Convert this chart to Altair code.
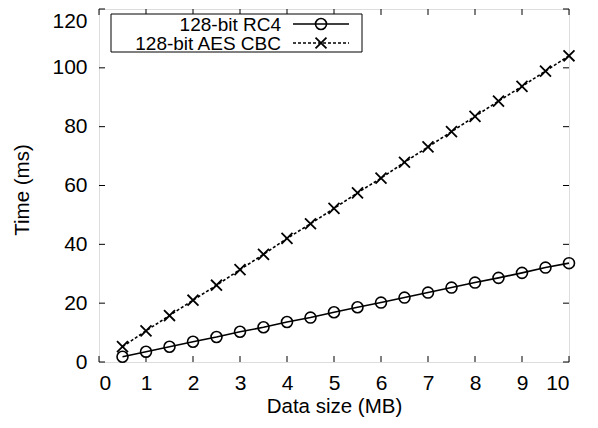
import altair as alt
import pandas as pd

# ---- data ----
data_size = [0.5, 1, 1.5, 2, 2.5, 3, 3.5, 4, 4.5, 5, 5.5, 6, 6.5, 7, 7.5, 8, 8.5, 9, 9.5, 10]
rc4_ms = [1.8, 3.5, 5.2, 6.9, 8.5, 10.3, 11.8, 13.6, 15.1, 16.9, 18.6, 20.2, 21.9, 23.6, 25.3, 27.0, 28.6, 30.3, 32.1, 33.6]
aes_ms = [5.2, 10.6, 15.8, 21.0, 26.1, 31.4, 36.6, 42.0, 47.0, 52.2, 57.5, 62.5, 67.9, 73.1, 78.3, 83.5, 88.7, 93.7, 98.9, 104.1]
series_names = ["128-bit RC4", "128-bit AES CBC"]
x_ticks = [0, 1, 2, 3, 4, 5, 6, 7, 8, 9, 10]
y_ticks = [0, 20, 40, 60, 80, 100, 120]

W, H = 470, 353
FONT = "Liberation Sans"
FS_TICK = 21
FS_TITLE = 20.5
FS_LEG = 19
XMARK = "M-1,-1L1,1M1,-1L-1,1"

df = pd.DataFrame({"size": data_size * 2,
                   "time": rc4_ms + aes_ms,
                   "series": [series_names[0]] * len(data_size) + [series_names[1]] * len(data_size)})
df_rc4 = df[df.series == series_names[0]]
df_aes = df[df.series == series_names[1]]
xt = pd.DataFrame({"v": x_ticks})
yt = pd.DataFrame({"v": y_ticks})

xs = alt.Scale(domain=[0, 10], nice=False, zero=False)
ys = alt.Scale(domain=[0, 120], nice=False, zero=False)

x_axis = alt.Axis(values=x_ticks, ticks=False, domain=False, grid=False, labelPadding=10,
                  labelFont=FONT, labelFontSize=FS_TICK, labelColor="black",
                  title="Data size (MB)", titleFont=FONT, titleFontSize=FS_TITLE, titleFontWeight="normal",
                  titleColor="black", titleX=W / 2, titleY=50, titleBaseline="alphabetic", titleAlign="center")
y_axis = alt.Axis(values=y_ticks, ticks=False, domain=False, grid=False, labelPadding=12,
                  labelFont=FONT, labelFontSize=FS_TICK, labelColor="black",
                  labelOffset={"condition": {"test": "datum.value == 120", "value": 12}, "value": 0},
                  title="Time (ms)", titleFont=FONT, titleFontSize=FS_TITLE, titleFontWeight="normal",
                  titleColor="black", titleX=-71, titleY=H / 2 + 4, titleBaseline="alphabetic",
                  titleAlign="center", titleAngle=270)

base_x = alt.X("size:Q", scale=xs, axis=x_axis)
base_y = alt.Y("time:Q", scale=ys, axis=y_axis)

line_rc4 = alt.Chart(df_rc4).mark_line(color="black", strokeWidth=1.6).encode(x=base_x, y=base_y)
line_aes = alt.Chart(df_aes).mark_line(color="black", strokeWidth=1.6, strokeDash=[3, 2]).encode(x=base_x, y=base_y)
pts_rc4 = alt.Chart(df_rc4).mark_point(shape="circle", size=120, filled=False, color="black",
                                       strokeWidth=1.6, opacity=1).encode(x=base_x, y=base_y)
pts_aes = alt.Chart(df_aes).mark_point(shape=XMARK, size=120, filled=False, color="black",
                                       strokeWidth=1.8, opacity=1).encode(x=base_x, y=base_y)

# inward ticks on all four sides
tick_kw = dict(color="black", strokeWidth=1)
tb = alt.Chart(xt).mark_rule(**tick_kw).encode(x=alt.X("v:Q", scale=xs), y=alt.value(H), y2=alt.value(H - 6))
tt = alt.Chart(xt).mark_rule(**tick_kw).encode(x=alt.X("v:Q", scale=xs), y=alt.value(0), y2=alt.value(6))
tl = alt.Chart(yt).mark_rule(**tick_kw).encode(y=alt.Y("v:Q", scale=ys), x=alt.value(0), x2=alt.value(6))
tr = alt.Chart(yt).mark_rule(**tick_kw).encode(y=alt.Y("v:Q", scale=ys), x=alt.value(W), x2=alt.value(W - 6))

# legend (manual, gnuplot style: text left, sample right)
one = pd.DataFrame({"label": series_names})
leg_box = alt.Chart(one.head(1)).mark_rect(fill="white", stroke="black", strokeWidth=1).encode(
    x=alt.value(12), x2=alt.value(263), y=alt.value(5), y2=alt.value(43))
rows = [15, 34]
leg_layers = [leg_box]
for i, name in enumerate(series_names):
    d = pd.DataFrame({"label": [name]})
    leg_layers.append(alt.Chart(d).mark_text(font=FONT, fontSize=FS_LEG, align="right", baseline="alphabetic",
                                             color="black").encode(
        text="label:N", x=alt.value(182), y=alt.value(rows[i] + 7)))
    rule_kw = dict(color="black", strokeWidth=1.6)
    if i == 1:
        rule_kw["strokeDash"] = [3, 2]
    leg_layers.append(alt.Chart(d).mark_rule(**rule_kw).encode(
        x=alt.value(194), x2=alt.value(250), y=alt.value(rows[i])))
    if i == 0:
        leg_layers.append(alt.Chart(d).mark_point(shape="circle", size=120, filled=False, color="black",
                                                  strokeWidth=1.6, opacity=1).encode(
            x=alt.value(222), y=alt.value(rows[i])))
    else:
        leg_layers.append(alt.Chart(d).mark_point(shape=XMARK, size=120, filled=False, color="black",
                                                  strokeWidth=1.8, opacity=1).encode(
            x=alt.value(222), y=alt.value(rows[i])))

chart = alt.layer(line_rc4, line_aes, pts_rc4, pts_aes, tb, tt, tl, tr, *leg_layers).properties(
    width=W, height=H,
    autosize=alt.AutoSizeParams(type="none"),
    padding={"left": 91, "top": 1, "right": 21, "bottom": 58},
).configure_view(stroke="black", strokeWidth=1.6).configure(background="white")

chart.save("out.html", embed_options={"renderer": "svg", "actions": False})
